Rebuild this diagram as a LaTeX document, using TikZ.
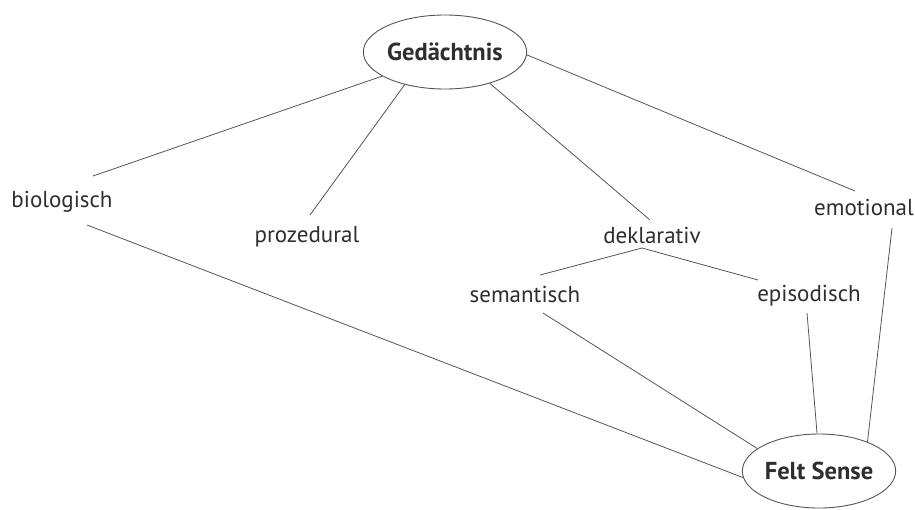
\documentclass[tikz,border=0pt]{standalone}
\usepackage{fontspec}
\setmainfont{PT Sans}
\usetikzlibrary{shapes.geometric,calc}
\definecolor{ink}{HTML}{2E2E2E}
\definecolor{wire}{HTML}{555555}
\begin{document}
\begin{tikzpicture}[x=1pt,y=-1pt,
  oval/.style={ellipse,draw=wire,line width=0.9pt,inner sep=0pt,text=ink,font=\fontsize{24.5}{28}\selectfont\bfseries},
  lbl/.style={inner sep=0pt,text=ink,font=\fontsize{23}{26}\selectfont},
  wireline/.style={draw=wire,line width=0.8pt}]
\useasboundingbox (0,0) rectangle (915,509);
\node[oval,minimum width=154pt,minimum height=74pt] (ged) at (445,52) {Gedächtnis};
\node[oval,minimum width=152pt,minimum height=74pt] (felt) at (819,471) {Felt Sense};
\node[lbl] (bio) at (62,202) {biologisch};
\node[lbl] (proz) at (307,237) {prozedural};
\node[lbl] (dekl) at (652,235) {deklarativ};
\node[lbl] (emo) at (864,207) {emotional};
\node[lbl] (sem) at (525,294) {semantisch};
\node[lbl] (epi) at (809,296) {episodisch};
\draw[wireline] (ged.201) -- ($(bio)+(31,-26)$);
\draw[wireline] (ged.219) -- ($(proz)+(3,-22)$);
\draw[wireline] (ged.325) -- ($(dekl)+(-2,-15)$);
\draw[wireline] (ged.358) -- ($(emo)+(-9,-16)$);
\draw[wireline] ($(dekl)+(-10,13)$) -- ($(sem)+(15,-19)$);
\draw[wireline] ($(dekl)+(-10,13)$) -- ($(epi)+(-51,-16)$);
\draw[wireline] ($(sem)+(18,19)$) -- (felt.160);
\draw[wireline] ($(bio)+(25,23)$) -- (felt.185);
\draw[wireline] ($(epi)+(-2,17)$) -- (felt.93);
\draw[wireline] ($(emo)+(28,21)$) -- (felt.31);
\end{tikzpicture}
\end{document}
